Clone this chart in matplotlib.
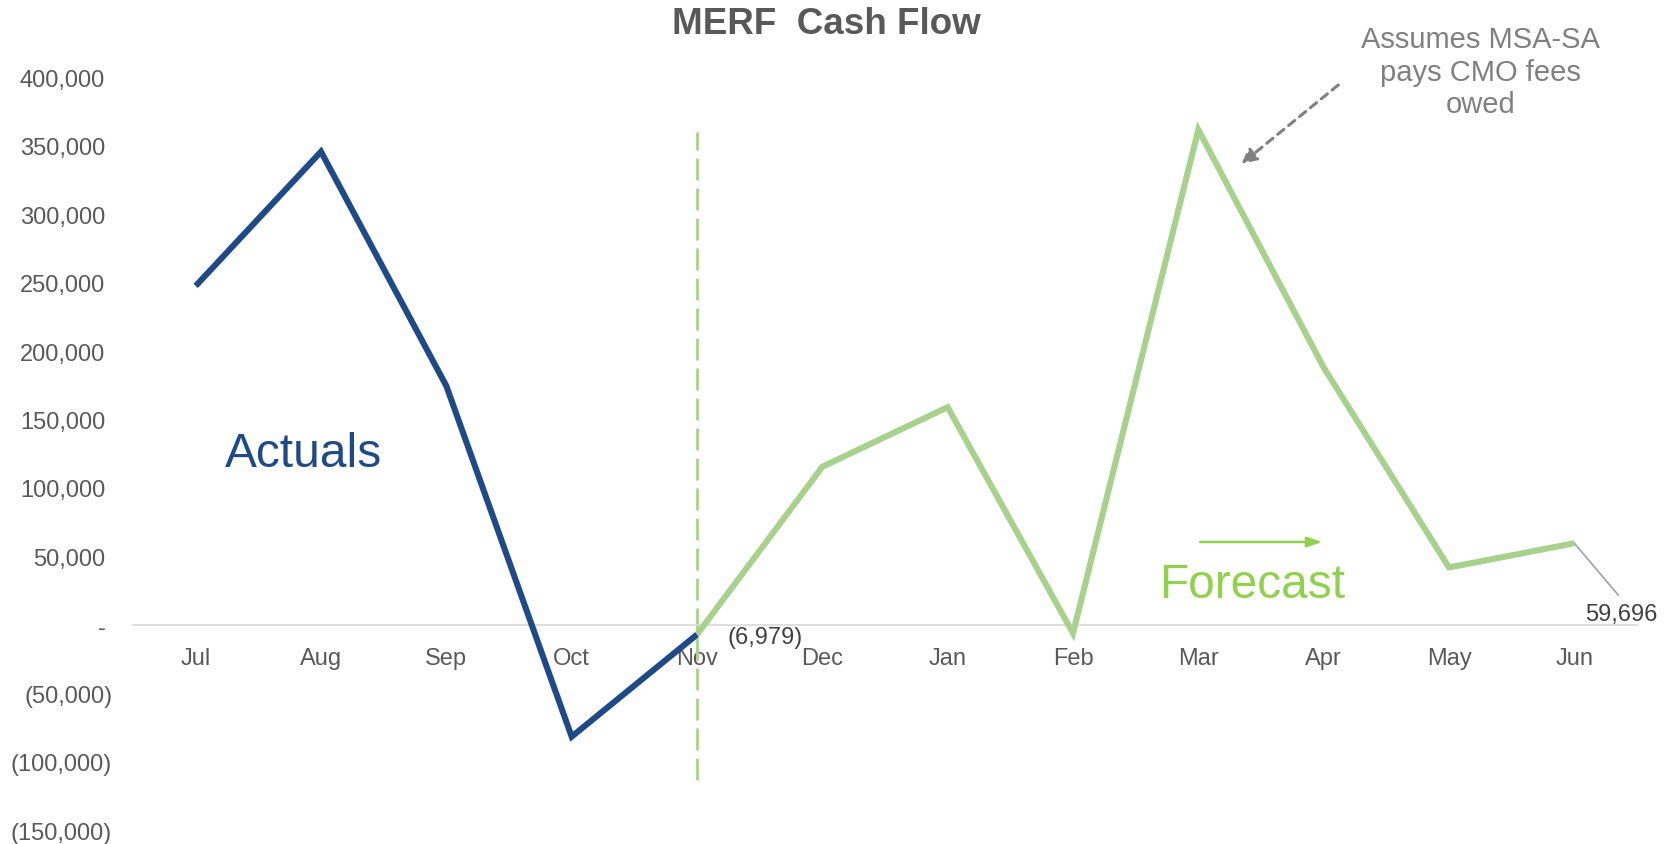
import matplotlib
matplotlib.use("Agg")
import matplotlib.pyplot as plt
from matplotlib.transforms import ScaledTranslation

plt.rcParams['font.family'] = ['Liberation Sans', 'DejaVu Sans']

months = ["Jul", "Aug", "Sep", "Oct", "Nov", "Dec", "Jan", "Feb", "Mar", "Apr", "May", "Jun"]
actual_months = ["Jul", "Aug", "Sep", "Oct", "Nov"]
actual_values = [247500, 345500, 174500, -81500, -6979]
forecast_months = ["Nov", "Dec", "Jan", "Feb", "Mar", "Apr", "May", "Jun"]
forecast_values = [-6979, 115500, 159000, -6000, 361500, 188000, 42000, 59696]
yticks = [-150000, -100000, -50000, 0, 50000, 100000, 150000, 200000, 250000, 300000, 350000, 400000]

BLUE = "#1F4A86"
GREEN_LINE = "#A9D18E"
GREEN_TEXT = "#92D050"
GRAY = "#595959"

def fmt(v):
    if v == 0:
        return "-"
    if v < 0:
        return f"({-v:,.0f})"
    return f"{v:,.0f}"

fig = plt.figure(figsize=(16.71, 8.45), dpi=100)
ax = fig.add_axes([133/1671, 13.5/845, 1504/1671, (767 - 13.5)/845])

idx = {m: i for i, m in enumerate(months)}
ax.plot([idx[m] for m in forecast_months], forecast_values, color=GREEN_LINE, lw=4.4,
        solid_capstyle='butt', solid_joinstyle='miter', zorder=3)
ax.plot([idx[m] for m in actual_months], actual_values, color=BLUE, lw=4.4,
        solid_capstyle='butt', solid_joinstyle='miter', zorder=4)

ax.set_xlim(-0.5, len(months) - 0.5)
ax.set_ylim(-150000, 400000)
ax.set_xticks(range(len(months)))
ax.set_xticklabels(months)
ax.set_yticks(yticks)
ax.set_yticklabels([fmt(v) for v in yticks])

for s in ["top", "right", "left"]:
    ax.spines[s].set_visible(False)
ax.spines["bottom"].set_position(("data", 0))
ax.spines["bottom"].set_color("#D9D9D9")
ax.spines["bottom"].set_linewidth(1.2)
ax.tick_params(axis="both", length=0, labelsize=17, labelcolor=GRAY)
ax.tick_params(axis="x", pad=15.5)
ax.tick_params(axis="y", pad=15)

for lab, v in zip(ax.get_yticklabels(), yticks):
    if v > 0:
        lab.set_transform(lab.get_transform() + ScaledTranslation(-7/100, 0, fig.dpi_scale_trans))
    elif v == 0:
        lab.set_transform(lab.get_transform() + ScaledTranslation(-6/100, 0, fig.dpi_scale_trans))

# vertical divider at Nov
ax.vlines(idx["Nov"], -113000, 360000, colors=GREEN_LINE, lw=2.0,
          linestyles=(0, (7.9, 2.9)), zorder=2)

# labels
ax.text(0.234, 125500, "Actuals", color=BLUE, fontsize=34.5, ha="left", va="center")
ax.text(7.69, 29500, "Forecast", color=GREEN_TEXT, fontsize=34.5, ha="left", va="center")
ax.annotate("", xy=(8.99, 60600), xytext=(8.015, 60600),
            arrowprops=dict(arrowstyle="-|>,head_length=0.9,head_width=0.3",
                            color=GREEN_TEXT, lw=1.8, shrinkA=0, shrinkB=0))

ax.text(4.24, -8800, fmt(actual_values[-1]), color="#404040", fontsize=17,
        ha="left", va="center", zorder=5)

ax.plot([idx["Jun"], 11.35], [forecast_values[-1], 21900], color="#A6A6A6", lw=1.3, zorder=2)
ax.text(11.375, 8000, fmt(forecast_values[-1]), color="#404040", fontsize=17,
        ha="center", va="center")

ax.text(10.25, 404000, "Assumes MSA-SA\npays CMO fees\nowed", color="#808080",
        fontsize=21, ha="center", va="center", linespacing=1.2)
ax.annotate("", xy=(8.343, 336500), xytext=(9.117, 394200),
            arrowprops=dict(arrowstyle="-|>,head_length=0.9,head_width=0.45",
                            color="#808080", lw=2.2, linestyle=(0, (2.6, 2.0)),
                            shrinkA=0, shrinkB=0))

fig.text(826/1671, 1 - 24/845, "MERF  Cash Flow", color=GRAY, fontsize=26.5,
         fontweight="bold", ha="center", va="center")

fig.savefig("out.png", dpi=100)
